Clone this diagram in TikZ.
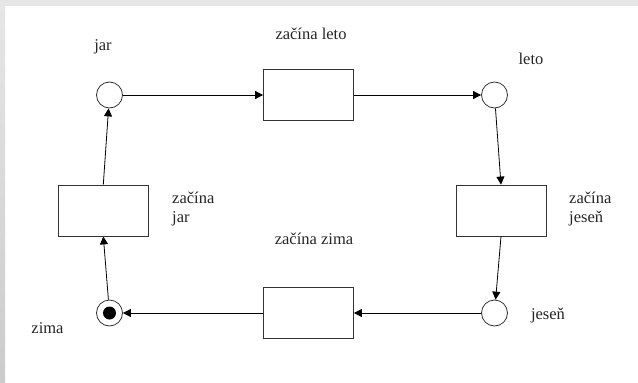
\documentclass[tikz,border=0pt]{standalone}
\usepackage{fontspec}
\setmainfont{Liberation Serif}
\usetikzlibrary{arrows.meta}
\definecolor{framegray}{HTML}{E6E6E6}
\definecolor{framegraydark}{HTML}{CBCBCB}
\definecolor{linegray}{HTML}{333333}
\tikzset{
  place/.style={circle, draw=linegray, line width=0.8pt, minimum size=26pt, inner sep=0pt, fill=white},
  trans/.style={rectangle, draw=linegray, line width=0.8pt, minimum width=90pt, minimum height=51pt, inner sep=0pt, fill=white},
  tok/.style={circle, fill=black, minimum size=13pt, inner sep=0pt},
  lbl/.style={font=\fontsize{16.5}{19}\selectfont, inner sep=0pt, text=black!85},
  arc/.style={line width=0.8pt, draw=black, -{Triangle[length=8pt,width=8pt]}},
}
\begin{document}
\begin{tikzpicture}[x=1pt,y=-1pt]
\useasboundingbox (0,0) rectangle (638,383);
\fill[white] (0,0) rectangle (638,383);
\fill[framegray] (0,0) rectangle (638,6);
\shade[top color=framegray, bottom color=framegraydark] (0,6) rectangle (5,383);

% places
\node[place] (jar) at (109.5,95) {};
\node[place] (leto) at (494.5,95) {};
\node[place] (jesen) at (494.5,313) {};
\node[place] (zima) at (109.5,313) {};
\node[tok] (token) at (109.5,313) {};

% transitions
\node[trans] (tleto) at (308.5,95) {};
\node[trans] (tjesen) at (501,210.5) {};
\node[trans] (tzima) at (308.5,313) {};
\node[trans] (tjar) at (103.3,210.5) {};

% labels
\node[lbl] (ljar) at (103,47) {jar};
\node[lbl] (lleto) at (531,59) {leto};
\node[lbl] (ljesen) at (548,316) {jeseň};
\node[lbl] (lzima) at (47.5,328) {zima};
\node[lbl] (ltleto) at (311,34) {začína leto};
\node[lbl] (ltzima) at (314,239) {začína zima};
\node[lbl, anchor=west, align=left] (ltjesen) at (569,209) {začína\\jeseň};
\node[lbl, anchor=west, align=left] (ltjar) at (172,209) {začína\\jar};

% arcs
\draw[arc] (jar) -- (tleto);
\draw[arc] (tleto) -- (leto);
\draw[arc] (leto) -- (tjesen.north);
\draw[arc] (tjesen.south) -- (jesen);
\draw[arc] (jesen) -- (tzima);
\draw[arc] (tzima) -- (zima);
\draw[arc] (zima) -- (tjar.south);
\draw[arc] (tjar.north) -- (jar);
\end{tikzpicture}
\end{document}
